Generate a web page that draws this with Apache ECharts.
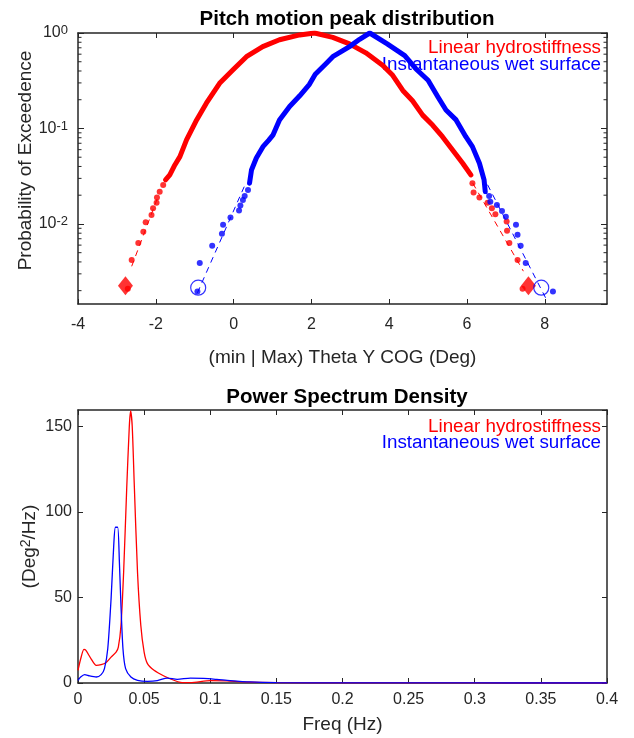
<!DOCTYPE html>
<html>
<head>
<meta charset="utf-8">
<script src="https://cdn.jsdelivr.net/npm/echarts@6/dist/echarts.min.js"></script>
<style>
html,body{margin:0;padding:0;background:#fff;}
#chart{width:634px;height:738px;}
</style>
</head>
<body>
<div id="chart"></div>
<script>
// ---------- Top plot: peak distribution (probability of exceedence) ----------
const redCurve = [[-1.75,0.0289],[-1.64,0.0326],[-1.51,0.0415],[-1.38,0.0507],[-1.21,0.076],[-0.95,0.123],[-0.70,0.184],[-0.36,0.297],[-0.02,0.41],[0.33,0.565],[0.75,0.72],[1.18,0.85],[1.70,0.955],[2.08,1.0],[2.55,0.90],[2.98,0.77],[3.40,0.62],[3.83,0.46],[4.09,0.36],[4.35,0.25],[4.60,0.195],[4.86,0.138],[5.12,0.108],[5.37,0.082],[5.63,0.0596],[5.89,0.0432],[6.10,0.0326]];
const redTail = [[-2.72,0.0021],[-2.62,0.0042],[-2.45,0.0063],[-2.32,0.0083],[-2.26,0.0104],[-2.11,0.0124],[-2.07,0.0146],[-1.98,0.0167],[-1.97,0.0189],[-1.90,0.0218],[-1.81,0.0256],[6.14,0.0267],[6.17,0.0213],[6.32,0.0189],[6.53,0.0167],[6.64,0.0146],[6.73,0.0126],[7.02,0.0106],[7.03,0.0085],[7.09,0.0063],[7.30,0.0042],[7.43,0.0021]];
const redFitLeft = [[-2.62,0.0036],[-1.95,0.019]];
const redFitRight = [[6.15,0.0267],[7.45,0.0032]];
const redExtremes = [[-2.78,0.00225],[7.58,0.00225]];

const blueCurve = [[0.41,0.0267],[0.46,0.0367],[0.585,0.049],[0.755,0.0645],[0.90,0.075],[1.01,0.085],[1.18,0.123],[1.44,0.17],[1.70,0.22],[1.95,0.29],[2.10,0.37],[2.38,0.48],[2.55,0.565],[2.98,0.72],[3.24,0.86],[3.50,1.0],[3.95,0.77],[4.40,0.58],[4.69,0.42],[5.00,0.32],[5.25,0.215],[5.46,0.156],[5.72,0.123],[5.97,0.082],[6.14,0.0645],[6.32,0.0432],[6.44,0.0289],[6.47,0.0218]];
const blueTail = [[-0.93,0.00196],[-0.87,0.0039],[-0.55,0.0059],[-0.30,0.0079],[-0.27,0.0098],[-0.08,0.0117],[0.14,0.0138],[0.175,0.0156],[0.24,0.0178],[0.285,0.0196],[0.37,0.0227],[6.57,0.0196],[6.60,0.0171],[6.77,0.0158],[6.90,0.0137],[7.00,0.0119],[7.26,0.0098],[7.30,0.0077],[7.38,0.0059],[7.51,0.0039],[8.21,0.00196]];
const blueFitLeft = [[-0.93,0.0019],[0.30,0.026]];
const blueFitRight = [[6.40,0.0326],[8.07,0.00154]];
const blueExtremes = [[-0.91,0.00215],[7.91,0.00215]];

const topXMin = -4, topXMax = 9.6, topXStep = 2;
const topYMin = 0.00145, topYMax = 1;
const logMinorTicks = [0.002,0.003,0.004,0.005,0.006,0.007,0.008,0.009,0.02,0.03,0.04,0.05,0.06,0.07,0.08,0.09,0.2,0.3,0.4,0.5,0.6,0.7,0.8,0.9];

// ---------- Bottom plot: power spectrum density ----------
const redPsd = [[0,7.4],[0.002,14],[0.0045,19.6],[0.006,19],[0.010,14],[0.0138,10.3],[0.0175,10.7],[0.021,11.8],[0.025,15.1],[0.0288,18],[0.0305,21],[0.0325,33.6],[0.0345,64.7],[0.0368,113],[0.0388,150],[0.0398,159],[0.041,150],[0.0425,117],[0.045,64.7],[0.0475,33.6],[0.050,18],[0.0525,11.3],[0.0575,7.4],[0.065,4.1],[0.0725,1.6],[0.0775,0.4],[0.085,0.2],[0.100,1.4],[0.1125,1.2],[0.125,0.6],[0.150,0.2],[0.20,0.08],[0.25,0.04],[0.30,0.02],[0.35,0.01],[0.40,0.01]];
const bluePsd = [[0,1.6],[0.002,3.5],[0.005,4.9],[0.0088,4.1],[0.0138,3.5],[0.0175,4.9],[0.020,8.4],[0.0225,20],[0.025,49],[0.027,80],[0.0283,91],[0.030,91],[0.0313,70.5],[0.0325,45],[0.034,20],[0.036,8.4],[0.040,3.5],[0.045,1.6],[0.0525,1.0],[0.060,1.4],[0.0675,2.9],[0.075,2.1],[0.085,2.9],[0.095,2.7],[0.105,2.1],[0.115,1.4],[0.130,0.6],[0.150,0.2],[0.20,0.06],[0.25,0.03],[0.30,0.02],[0.35,0.01],[0.40,0.01]];
const psdXMin = 0, psdXMax = 0.4, psdXStep = 0.05;
const psdYMin = 0, psdYMax = 159.5, psdYStep = 50;

const seriesNames = ['Linear hydrostiffness', 'Instantaneous wet surface'];
const RED = '#ff0000', BLUE = '#0000ff';
const FONT = 'Liberation Sans, Arial, Helvetica, sans-serif';
const AX = '#262626';

const chart = echarts.init(document.getElementById('chart'), null, {renderer: 'canvas'});

function axisCommon(extra) {
  return Object.assign({
    axisLine: {show: true, onZero: false, lineStyle: {color: AX, width: 1.5}},
    axisTick: {show: true, inside: true, length: 5, lineStyle: {color: AX, width: 1}},
    splitLine: {show: false},
    nameMoveOverlap: false,
    nameTextStyle: {fontFamily: FONT, fontSize: 19, color: AX}
  }, extra);
}
const labelStyle = {fontFamily: FONT, fontSize: 16, color: AX};

function minorTickSeries(xi, yi, xmin) {
  return {
    type: 'custom', xAxisIndex: xi, yAxisIndex: yi, silent: true, clip: false, z: 5,
    data: logMinorTicks.map(v => [xmin, v]),
    renderItem: function (params, api) {
      const cs = params.coordSys;
      const y = api.coord([api.value(0), api.value(1)])[1];
      const st = {stroke: AX, lineWidth: 1};
      return {type: 'group', children: [
        {type: 'line', shape: {x1: cs.x, y1: y, x2: cs.x + 3.5, y2: y}, style: st},
        {type: 'line', shape: {x1: cs.x + cs.width, y1: y, x2: cs.x + cs.width - 3.5, y2: y}, style: st}
      ]};
    }
  };
}

function logLabel(v) {
  const l = Math.log10(v);
  const e = Math.round(l);
  if (Math.abs(l - e) > 1e-6) return '';
  return '{b|10}{s|' + e + '}';
}

const option = {
  animation: false,
  backgroundColor: '#ffffff',
  title: [
    {text: 'Pitch motion peak distribution', left: 342, top: 4, textAlign: 'center',
     textStyle: {fontFamily: FONT, fontSize: 20.5, fontWeight: 'bold', color: '#000'}},
    {text: 'Power Spectrum Density', left: 342, top: 382, textAlign: 'center',
     textStyle: {fontFamily: FONT, fontSize: 20.5, fontWeight: 'bold', color: '#000'}}
  ],
  grid: [
    {left: 78, right: 27, top: 33, height: 271, containLabel: false, outerBoundsMode: 'none'},
    {left: 78, right: 27, top: 410, height: 273, containLabel: false, outerBoundsMode: 'none'}
  ],
  xAxis: [
    axisCommon({type: 'value', gridIndex: 0, position: 'bottom', min: topXMin, max: topXMax, interval: topXStep,
      name: '(min | Max) Theta Y COG (Deg)', nameLocation: 'middle', nameGap: 44,
      axisLabel: Object.assign({margin: 13, showMaxLabel: false}, labelStyle)}),
    axisCommon({type: 'value', gridIndex: 0, position: 'top', min: topXMin, max: topXMax, interval: topXStep,
      axisLabel: {show: false}}),
    axisCommon({type: 'value', gridIndex: 1, position: 'bottom', min: psdXMin, max: psdXMax, interval: psdXStep,
      name: 'Freq (Hz)', nameLocation: 'middle', nameGap: 32,
      axisLabel: Object.assign({margin: 9}, labelStyle)}),
    axisCommon({type: 'value', gridIndex: 1, position: 'top', min: psdXMin, max: psdXMax, interval: psdXStep,
      axisLabel: {show: false}})
  ],
  yAxis: [
    axisCommon({type: 'log', logBase: 10, gridIndex: 0, position: 'left', min: topYMin, max: topYMax,
      name: 'Probability of Exceedence', nameLocation: 'middle', nameGap: 43,
      nameTextStyle: {fontFamily: FONT, fontSize: 19, color: AX, padding: [0, 0, 0, 16]},
      axisTick: {show: true, inside: true, length: 6, lineStyle: {color: AX, width: 1}},
      axisLabel: {margin: 10, formatter: logLabel, showMinLabel: false,
        rich: {b: {fontFamily: FONT, fontSize: 16, color: AX, lineHeight: 18},
               s: {fontFamily: FONT, fontSize: 13, color: AX, verticalAlign: 'top', lineHeight: 12}}}}),
    axisCommon({type: 'log', logBase: 10, gridIndex: 0, position: 'right', min: topYMin, max: topYMax,
      axisTick: {show: true, inside: true, length: 6, lineStyle: {color: AX, width: 1}},
      axisLabel: {show: false}}),
    axisCommon({type: 'value', gridIndex: 1, position: 'left', min: psdYMin, max: psdYMax, interval: psdYStep,
      name: '{a|(Deg}{s|2}{a|/Hz)}', nameLocation: 'middle', nameGap: 37,
      nameTextStyle: {fontFamily: FONT, fontSize: 19, color: AX,
        rich: {a: {fontFamily: FONT, fontSize: 19, color: AX, lineHeight: 22},
               s: {fontFamily: FONT, fontSize: 14, color: AX, verticalAlign: 'top', lineHeight: 14}}},
      axisLabel: Object.assign({margin: 6, showMaxLabel: false}, labelStyle)}),
    axisCommon({type: 'value', gridIndex: 1, position: 'right', min: psdYMin, max: psdYMax, interval: psdYStep,
      axisLabel: {show: false}})
  ],
  graphic: [
    {type: 'text', x: 601, y: 48, style: {text: seriesNames[0], fill: RED, font: '18.8px ' + FONT, textAlign: 'right', textVerticalAlign: 'middle'}},
    {type: 'text', x: 601, y: 65, style: {text: seriesNames[1], fill: BLUE, font: '18.8px ' + FONT, textAlign: 'right', textVerticalAlign: 'middle'}},
    {type: 'text', x: 601, y: 427, style: {text: seriesNames[0], fill: RED, font: '18.8px ' + FONT, textAlign: 'right', textVerticalAlign: 'middle'}},
    {type: 'text', x: 601, y: 443, style: {text: seriesNames[1], fill: BLUE, font: '18.8px ' + FONT, textAlign: 'right', textVerticalAlign: 'middle'}}
  ],
  series: [
    minorTickSeries(0, 0, topXMin),
    // red peak distribution
    {name: seriesNames[0], type: 'line', xAxisIndex: 0, yAxisIndex: 0, data: redCurve, showSymbol: false, symbol: 'none',
     lineStyle: {color: RED, width: 5, cap: 'round', join: 'round'}, z: 2},
    {type: 'scatter', xAxisIndex: 0, yAxisIndex: 0, data: redTail, symbol: 'circle', symbolSize: 6, itemStyle: {color: RED}, z: 2},
    {type: 'line', xAxisIndex: 0, yAxisIndex: 0, data: redFitLeft, symbol: 'none', lineStyle: {color: RED, width: 1, type: [6, 5]}, z: 2},
    {type: 'line', xAxisIndex: 0, yAxisIndex: 0, data: redFitRight, symbol: 'none', lineStyle: {color: RED, width: 1, type: [6, 5]}, z: 2},
    {type: 'scatter', xAxisIndex: 0, yAxisIndex: 0, data: redExtremes, symbol: 'diamond', symbolSize: [15, 19], itemStyle: {color: RED}, z: 2},
    // blue peak distribution
    {name: seriesNames[1], type: 'line', xAxisIndex: 0, yAxisIndex: 0, data: blueCurve, showSymbol: false, symbol: 'none',
     lineStyle: {color: BLUE, width: 5, cap: 'round', join: 'round'}, z: 3},
    {type: 'scatter', xAxisIndex: 0, yAxisIndex: 0, data: blueTail, symbol: 'circle', symbolSize: 6, itemStyle: {color: BLUE}, z: 3},
    {type: 'line', xAxisIndex: 0, yAxisIndex: 0, data: blueFitLeft, symbol: 'none', lineStyle: {color: BLUE, width: 1, type: [6, 5]}, z: 3},
    {type: 'line', xAxisIndex: 0, yAxisIndex: 0, data: blueFitRight, symbol: 'none', lineStyle: {color: BLUE, width: 1, type: [6, 5]}, z: 3},
    {type: 'scatter', xAxisIndex: 0, yAxisIndex: 0, data: blueExtremes, symbol: 'circle', symbolSize: 15,
     itemStyle: {color: 'rgba(0,0,0,0)', borderColor: BLUE, borderWidth: 1.2}, z: 3},
    // PSD
    {name: seriesNames[0], type: 'line', xAxisIndex: 2, yAxisIndex: 2, data: redPsd, symbol: 'none', smooth: 0.25,
     lineStyle: {color: RED, width: 1.3}, z: 2},
    {name: seriesNames[1], type: 'line', xAxisIndex: 2, yAxisIndex: 2, data: bluePsd, symbol: 'none', smooth: 0.25,
     lineStyle: {color: BLUE, width: 1.3}, z: 3}
  ]
};
chart.setOption(option);
</script>
</body>
</html>
